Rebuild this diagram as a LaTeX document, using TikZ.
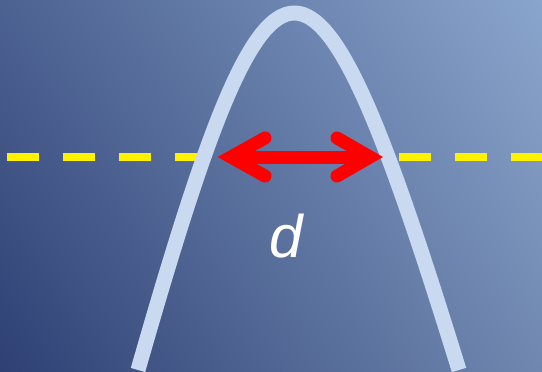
\documentclass[tikz,border=0pt]{standalone}
\usepackage{fontspec}
\setmainfont{Liberation Sans}
\usetikzlibrary{shadings}
\definecolor{bgTL}{RGB}{76,98,145}
\definecolor{bgTR}{RGB}{138,165,205}
\definecolor{bgBL}{RGB}{46,64,116}
\definecolor{bgBR}{RGB}{112,136,176}
\definecolor{curvecol}{RGB}{200,217,240}
\tikzset{
  dashline/.style={draw=yellow, line width=8pt, dash pattern=on 32pt off 24pt, dash phase=49pt},
  archline/.style={draw=curvecol, line width=15pt},
  arrowline/.style={draw=red, line width=13pt, line cap=round, line join=miter},
  shaftline/.style={draw=red, line width=13pt},
  lbl/.style={text=white, font=\fontsize{60}{60}\selectfont\itshape, inner sep=0pt, anchor=base}
}
\begin{document}
\begin{tikzpicture}[x=1pt,y=-1pt]
\shade[upper left=bgTL, upper right=bgTR, lower left=bgBL, lower right=bgBR] (0,0) rectangle (542,372);
\useasboundingbox (0,0) rectangle (542,372);
\coordinate (dl) at (0,157);
\coordinate (dr) at (542,157);
\draw[dashline] (dl) -- (dr);
\coordinate (cl) at (138,370);
\coordinate (cr) at (459,370);
\draw[archline] (cl) .. controls (274,-106) and (312,-106) .. (cr);
\coordinate (tl) at (231,157);
\coordinate (tr) at (370,157);
\coordinate (bl1) at (265,138);
\coordinate (bl2) at (265,176);
\coordinate (br1) at (337,138);
\coordinate (br2) at (337,176);
\draw[shaftline] (tl) -- (tr);
\draw[arrowline] (bl1) -- (tl) -- (bl2);
\draw[arrowline] (br1) -- (tr) -- (br2);
\node[lbl] (d) at (286,257) {d};
\end{tikzpicture}
\end{document}
